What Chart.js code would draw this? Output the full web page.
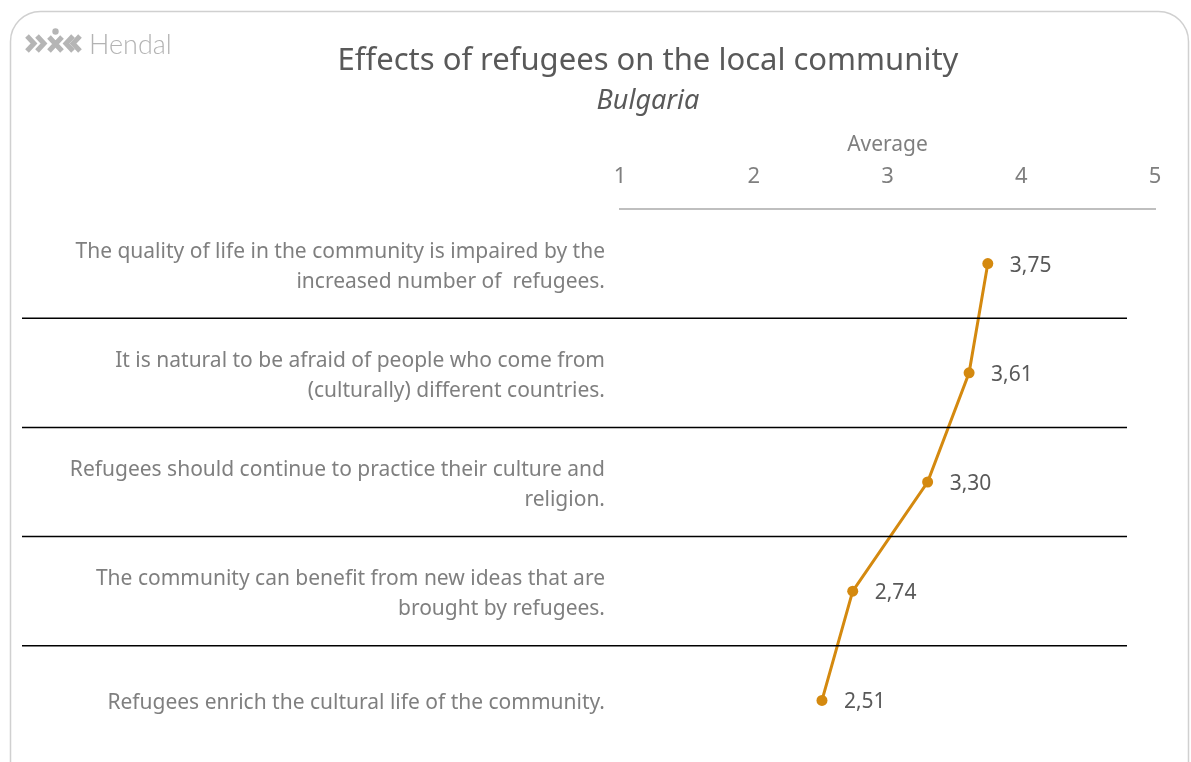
<!DOCTYPE html>
<html>
<head>
<meta charset="utf-8">
<script src="https://cdn.jsdelivr.net/npm/chart.js@4/dist/chart.umd.min.js"></script>
<style>
  html, body { margin: 0; padding: 0; background: #ffffff; }
  #wrap { width: 1191px; height: 762px; position: relative; }
</style>
</head>
<body>
<div id="wrap"><canvas id="chart" width="1191" height="762"></canvas></div>
<script>
// statements shown on the left, top to bottom
const statements = [
  ['The quality of life in the community is impaired by the', 'increased number of  refugees.'],
  ['It is natural to be afraid of people who come from', '(culturally) different countries.'],
  ['Refugees should continue to practice their culture and', 'religion.'],
  ['The community can benefit from new ideas that are', 'brought by refugees.'],
  ['Refugees enrich the cultural life of the community.']
];
// average score per statement (1-5 scale)
const averages = [3.75, 3.61, 3.30, 2.74, 2.51];
const scaleMin = 1;
const scaleMax = 5;

const chartTitle = 'Effects of refugees on the local community';
const chartSubtitle = 'Bulgaria';
const axisTitle = 'Average';
const brandName = 'Hendal';

const lineColor = '#d4890f';
const textGrey = '#595959';
const lightGrey = '#7f7f7f';
const FONT = "'Noto Sans', 'DejaVu Sans', sans-serif";

// frame, logo and titles
const decorPlugin = {
  id: 'decor',
  beforeDraw(chart) {
    const ctx = chart.ctx;
    ctx.save();
    ctx.fillStyle = '#ffffff';
    ctx.fillRect(0, 0, chart.width, chart.height);
    // rounded frame
    ctx.strokeStyle = '#d0d0d0';
    ctx.lineWidth = 1.5;
    ctx.beginPath();
    ctx.roundRect(10.5, 11.5, 1178, 790, 30);
    ctx.stroke();

    // logo icon
    ctx.strokeStyle = '#b5b5b5';
    ctx.fillStyle = '#b5b5b5';
    ctx.lineWidth = 5;
    ctx.lineCap = 'butt';
    ctx.lineJoin = 'miter';
    const chevron = (x, dir) => {
      ctx.beginPath();
      ctx.moveTo(x, 36);
      ctx.lineTo(x + 7 * dir, 43.5);
      ctx.lineTo(x, 51);
      ctx.stroke();
    };
    chevron(27, 1);
    chevron(37, 1);
    ctx.beginPath();
    ctx.moveTo(49, 37); ctx.lineTo(62, 51);
    ctx.moveTo(62, 37); ctx.lineTo(49, 51);
    ctx.stroke();
    ctx.beginPath();
    ctx.arc(55.5, 31.5, 3.2, 0, Math.PI * 2);
    ctx.fill();
    chevron(73, -1);
    chevron(80, -1);

    ctx.fillStyle = '#b3b3b3';
    ctx.font = "300 27px Lato, 'Noto Sans', sans-serif";
    ctx.textAlign = 'left';
    ctx.textBaseline = 'middle';
    ctx.fillText(brandName, 89, 45);

    // title + subtitle
    ctx.textAlign = 'center';
    ctx.fillStyle = textGrey;
    ctx.font = '31px ' + FONT;
    ctx.fillText(chartTitle, 648, 61);
    ctx.font = 'italic 27px ' + FONT;
    ctx.fillText(chartSubtitle, 648, 101);
    ctx.restore();
  }
};

// separator lines between statements and value labels
const rowsPlugin = {
  id: 'rows',
  afterDatasetsDraw(chart) {
    const ctx = chart.ctx;
    const y = chart.scales.y;
    ctx.save();
    ctx.strokeStyle = '#000000';
    ctx.lineWidth = 1.5;
    for (let i = 0; i < statements.length - 1; i++) {
      const yy = (y.getPixelForValue(i) + y.getPixelForValue(i + 1)) / 2;
      ctx.beginPath();
      ctx.moveTo(22, yy);
      ctx.lineTo(1127, yy);
      ctx.stroke();
    }
    const meta = chart.getDatasetMeta(0);
    ctx.fillStyle = textGrey;
    ctx.font = '21px ' + FONT;
    ctx.textAlign = 'left';
    ctx.textBaseline = 'middle';
    meta.data.forEach((pt, i) => {
      ctx.fillText(averages[i].toFixed(2).replace('.', ','), pt.x + 22, pt.y + 2);
    });
    ctx.restore();
  }
};

new Chart(document.getElementById('chart'), {
  type: 'line',
  data: {
    labels: statements,
    datasets: [{
      data: averages,
      borderColor: lineColor,
      backgroundColor: lineColor,
      borderWidth: 3,
      pointRadius: 5.5,
      pointBackgroundColor: lineColor,
      pointBorderWidth: 0,
      tension: 0
    }]
  },
  options: {
    indexAxis: 'y',
    responsive: false,
    animation: false,
    layout: { padding: { top: 120, right: 36, bottom: 7, left: 0 } },
    plugins: {
      legend: { display: false },
      tooltip: { enabled: false }
    },
    scales: {
      x: {
        type: 'linear',
        position: 'top',
        min: scaleMin,
        max: scaleMax,
        ticks: {
          stepSize: 1,
          color: lightGrey,
          font: { family: FONT, size: 22 },
          padding: 19
        },
        grid: { display: false, drawTicks: false },
        border: { display: true, color: '#bfbfbf', width: 2 },
        title: {
          display: true,
          text: axisTitle,
          color: lightGrey,
          font: { family: FONT, size: 21 },
          padding: { top: 12, bottom: 0 }
        },
        afterFit(scale) { scale.height = 89; }
      },
      y: {
        type: 'category',
        offset: true,
        ticks: {
          color: lightGrey,
          font: { family: FONT, size: 21, lineHeight: 1.43 },
          padding: 15,
          labelOffset: 3
        },
        grid: { display: false, drawTicks: false },
        border: { display: false },
        afterFit(scale) {
          scale.width = 620;
          scale.paddingTop = 0;
          scale.paddingBottom = 0;
        }
      }
    }
  },
  plugins: [decorPlugin, rowsPlugin]
});
</script>
</body>
</html>
